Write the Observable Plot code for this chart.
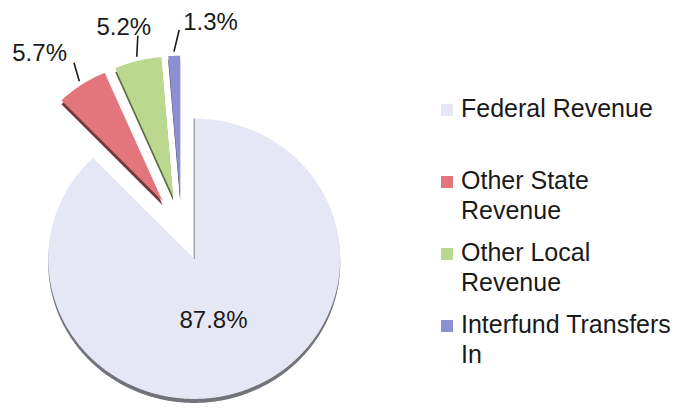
<!DOCTYPE html>
<html>
<head>
<meta charset="utf-8">
<script src="https://cdn.jsdelivr.net/npm/d3@7"></script>
<script src="https://cdn.jsdelivr.net/npm/@observablehq/plot@0.6"></script>
<style>
  html, body { margin: 0; padding: 0; background: #fff; }
  #wrap { position: relative; width: 678px; height: 410px; font-family: "Liberation Sans", Arial, sans-serif; }
  .item { position: absolute; left: 461px; width: 217px; font-size: 25px; line-height: 30px; color: #1a1a1a; }
  .sw { position: absolute; left: -20px; top: 11px; width: 12px; height: 12px; }
</style>
</head>
<body>
<div id="wrap"></div>
<script>
// ---- data ----
const categories = ["Federal Revenue", "Other State Revenue", "Other Local Revenue", "Interfund Transfers In"];
const values = [87.8, 5.7, 5.2, 1.3];
const labels = ["87.8%", "5.7%", "5.2%", "1.3%"];
const colors = ["#e6e7f5", "#e2767c", "#bad98f", "#8c8fd2"];

// ---- layout ----
const W = 678, H = 410;
const CX = 181, CY = 228, R = 146, K = 0.96, EXPLODE = 34, DEPTH = 4;
const labelAnchor = ["middle", "end", "middle", "start"];
const labelDx = [-8, -7, -14, 4];
const labelDy = [-3, -10, -8, -8];

const total = d3.sum(values);
let acc = 0;
const slices = values.map((v, i) => {
  const a0 = acc / total * 2 * Math.PI;
  acc += v;
  const a1 = acc / total * 2 * Math.PI;
  const m = (a0 + a1) / 2;
  const apex = [CX + EXPLODE * Math.sin(m), CY - EXPLODE * K * Math.cos(m)];
  return {i, category: categories[i], label: labels[i], a0, a1, m, apex};
});
const pt = (s, a, rr) => [s.apex[0] + rr * R * Math.sin(a), s.apex[1] - rr * R * K * Math.cos(a)];

const poly = [];
for (const s of slices) {
  poly.push({key: s.i, category: s.category, x: s.apex[0], y: s.apex[1]});
  const n = Math.max(4, Math.ceil((s.a1 - s.a0) / (Math.PI / 360)));
  for (let j = 0; j <= n; j++) {
    const a = s.a0 + (s.a1 - s.a0) * j / n;
    const [x, y] = pt(s, a, 1);
    poly.push({key: s.i, category: s.category, x, y});
  }
  poly.push({key: s.i, category: s.category, x: s.apex[0], y: s.apex[1]});
}
const depthPoly = poly.map(d => ({...d, y: d.y + DEPTH}));

const leaders = slices.slice(1).map(s => {
  const [x1, y1] = pt(s, s.m, 1.03);
  const [x2r, y2r] = pt(s, s.m, 1.17);
  return {i: s.i, x1, y1, x2: x2r + 6, y2: y2r - 2};
});
const labelPos = slices.map(s => {
  if (s.i === 0) {
    const [x, y] = pt(s, s.m, 0.5);
    return {i: 0, label: s.label, x: x + labelDx[0], y: y + labelDy[0]};
  }
  const l = leaders.find(d => d.i === s.i);
  return {i: s.i, label: s.label, x: l.x2 + labelDx[s.i], y: l.y2 + labelDy[s.i]};
});
const edge = [slices[0]].map(s => {
  const [x2, y2] = pt(s, s.a0, 1);
  return {x1: s.apex[0], y1: s.apex[1], x2, y2};
});

const chart = Plot.plot({
  width: W, height: H,
  margin: 0,
  x: {domain: [0, W], axis: null},
  y: {domain: [H, 0], axis: null},
  color: {domain: categories, range: colors},
  style: {fontFamily: '"Liberation Sans", Arial, sans-serif', background: "transparent", overflow: "visible"},
  marks: [
    Plot.line(depthPoly, {x: "x", y: "y", z: "key", fill: "category", stroke: "none", curve: "linear"}),
    Plot.line(depthPoly, {x: "x", y: "y", z: "key", fill: "#000", fillOpacity: 0.5, stroke: "none"}),
    Plot.line(poly, {x: "x", y: "y", z: "key", fill: "category", stroke: "none"}),
    Plot.link(edge, {x1: "x1", y1: "y1", x2: "x2", y2: "y2", stroke: "#9094ad", strokeWidth: 1.2}),
    Plot.link(leaders, {x1: "x1", y1: "y1", x2: "x2", y2: "y2", stroke: "#1a1a1a", strokeWidth: 1.6}),
    ...labelPos.map(d => Plot.text([d], {x: "x", y: "y", text: "label", textAnchor: labelAnchor[d.i], fontSize: 24, fill: "#1a1a1a"}))
  ]
});
const wrap = document.getElementById("wrap");
wrap.appendChild(chart);

// legend
categories.forEach((c, i) => {
  const item = document.createElement("div");
  item.className = "item";
  item.style.top = (93 + i * 72) + "px";
  const sw = document.createElement("span");
  sw.className = "sw";
  sw.style.background = colors[i];
  item.appendChild(sw);
  item.appendChild(document.createTextNode(c));
  wrap.appendChild(item);
});
</script>
</body>
</html>
